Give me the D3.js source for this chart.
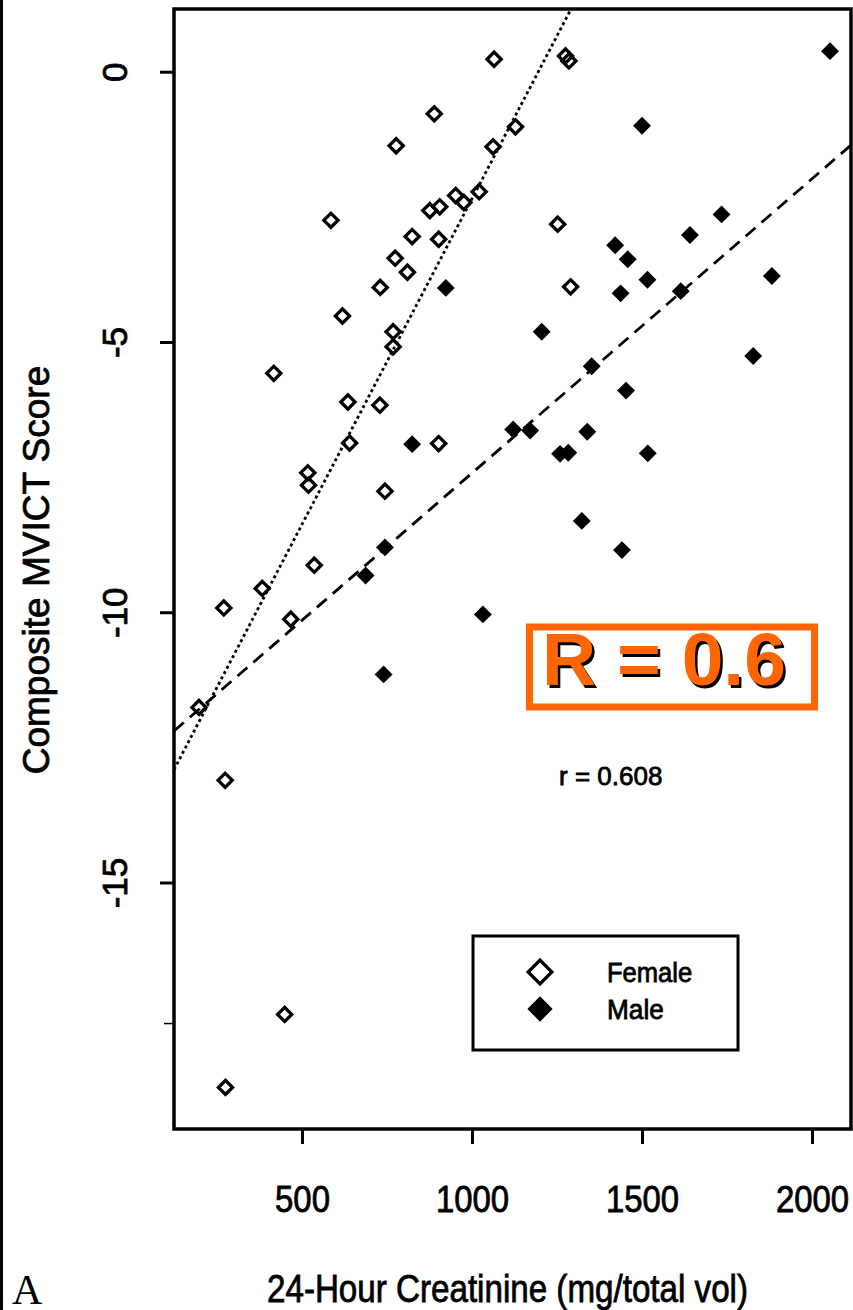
<!DOCTYPE html>
<meta charset="utf-8">
<style>
body { margin: 0; background: #fff; }
svg { display: block; font-family: "Liberation Sans", Arial, Helvetica, sans-serif; }
.frame { fill: none; stroke: #000; stroke-width: 3.5px; }
.axis .domain { display: none; }
.axis .tick line { stroke: #000; stroke-width: 3px; }
.axis.minor .tick line { stroke-width: 1.5px; }
.axis text { fill: #000; stroke: #000; stroke-width: 0.8px; }
.fit { fill: none; stroke: #000; stroke-width: 2.8px; }
.fit.female { stroke-dasharray: 3, 3; }
.fit.male { stroke-dasharray: 13, 8; }
.pt.female { fill: none; stroke: #000; stroke-width: 3.3px; }
.pt.male { fill: #000; stroke: none; }
.label { fill: #000; stroke: #000; stroke-width: 0.8px; }
</style>
<svg id="chart" width="853" height="1310"></svg>
<script src="https://cdn.jsdelivr.net/npm/d3@7/dist/d3.min.js"></script>
<script>
// values
var femaleCreat = [1065, 889, 777, 1062, 1128, 585, 1021, 952, 976, 876, 905, 824, 902, 774, 810, 730, 619, 768, 768,
                   417, 635, 729, 640, 517, 519, 744, 536, 383, 270, 467, 1275, 1285, 1252, 1290, 197, 274, 449, 275, 902];
var femaleScore = [0.23, -0.78, -1.37, -1.39, -1.02, -2.75, -2.22, -2.29, -2.42, -2.57, -2.50, -3.05, -3.10, -3.45, -3.71, -3.99, -4.52, -4.81, -5.09,
                   -5.58, -6.11, -6.17, -6.87, -7.42, -7.65, -7.76, -9.13, -9.56, -9.92, -10.13, 0.29, 0.20, -2.82, -3.98, -11.76, -13.11, -17.44, -18.79, -6.88];
var maleCreat = [923, 824, 1121, 1171, 744, 687, 1032, 740, 2053, 1500, 1421, 1458, 1641, 1734,
                 1516, 1437, 1614, 1882, 1205, 1827, 1352, 1453, 1339, 1259, 1283, 1517, 1323, 1441];
var maleScore = [-4.00, -6.89, -6.62, -6.64, -8.80, -9.32, -10.04, -11.15, 0.38, -1.00, -3.21, -3.47, -3.02, -2.64,
                 -3.85, -4.10, -4.06, -3.78, -4.81, -5.26, -5.45, -5.90, -6.66, -7.07, -7.05, -7.06, -8.31, -8.85];

// regression lines: [intercept, slope]
var femaleFit = [-14.40, 0.01205];
var maleFit = [-12.87, 0.005444];

var xTicks = [500, 1000, 1500, 2000];
var yTicks = [0, -5, -10, -15];
var yMinorTicks = [-17.6];
var legendLabels = ["Female", "Male"];
var xTitle = "24-Hour Creatinine (mg/total vol)";
var yTitle = "Composite MVICT Score";
var bigR = "R = 0.6";
var smallR = "r = 0.608";
var panel = "A";

var plotL = 174, plotR = 851, plotT = 9, plotB = 1129;

var x = d3.scaleLinear().domain([123.5, 2114.7]).range([plotL, plotR]);
var y = d3.scaleLinear().domain([1.16, -19.56]).range([plotT, plotB]);

var svg = d3.select("#chart");

// figure border on the far left
svg.append("line")
    .attr("x1", 1.5).attr("x2", 1.5).attr("y1", 0).attr("y2", 1310)
    .attr("stroke", "#000").attr("stroke-width", 3);

svg.append("clipPath").attr("id", "plotclip")
  .append("rect")
    .attr("x", plotL).attr("y", plotT)
    .attr("width", plotR - plotL).attr("height", plotB - plotT);

// x axis
var gx = svg.append("g")
    .attr("class", "axis")
    .attr("transform", "translate(0," + plotB + ")")
    .call(d3.axisBottom(x).tickValues(xTicks).tickSize(15).tickFormat(function(d) { return String(d); }));
gx.selectAll("text")
    .attr("y", 83).attr("dy", null)
    .style("font-size", "37px")
    .attr("textLength", function(d) { return String(d).length * 18.3; })
    .attr("lengthAdjust", "spacingAndGlyphs");

// y axis, labels turned like in R (las = 0), plain hyphen minus
var gy = svg.append("g")
    .attr("class", "axis")
    .attr("transform", "translate(" + plotL + ",0)")
    .call(d3.axisLeft(y).tickValues(yTicks).tickSize(14).tickFormat(function(d) { return String(d); }));
gy.selectAll("text")
    .attr("x", 0).attr("y", -47).attr("dy", null)
    .attr("text-anchor", "middle")
    .attr("transform", "rotate(-90)")
    .style("font-size", "35px");

svg.append("g")
    .attr("class", "axis minor")
    .attr("transform", "translate(" + plotL + ",0)")
    .call(d3.axisLeft(y).tickValues(yMinorTicks).tickSize(10).tickFormat(""));

// axis titles
svg.append("text")
    .attr("class", "label")
    .attr("transform", "translate(49,570) rotate(-90)")
    .attr("text-anchor", "middle")
    .style("font-size", "37px")
    .text(yTitle);

svg.append("text")
    .attr("class", "label")
    .attr("x", 267).attr("y", 1302)
    .style("font-size", "39px")
    .attr("textLength", 481)
    .attr("lengthAdjust", "spacingAndGlyphs")
    .text(xTitle);

svg.append("text")
    .attr("x", 12).attr("y", 1304)
    .style("font-family", "'Liberation Serif', 'Times New Roman', serif")
    .style("font-size", "42px")
    .text(panel);

// fitted lines
var fits = svg.append("g").attr("clip-path", "url(#plotclip)");
[[femaleFit, "female"], [maleFit, "male"]].forEach(function(f) {
  var xs = x.domain();
  fits.append("path")
      .attr("class", "fit " + f[1])
      .attr("d", d3.line()(xs.map(function(v) { return [x(v), y(f[0][0] + f[0][1] * v)]; })));
});

// points
var openDiamond = d3.symbol(d3.symbolSquare, 100);
var solidDiamond = d3.symbol(d3.symbolSquare, 160);

svg.append("g").selectAll("path")
    .data(d3.range(femaleCreat.length))
  .enter().append("path")
    .attr("class", "pt female")
    .attr("d", openDiamond)
    .attr("transform", function(i) { return "translate(" + x(femaleCreat[i]) + "," + y(femaleScore[i]) + ") rotate(45)"; });

svg.append("g").selectAll("path")
    .data(d3.range(maleCreat.length))
  .enter().append("path")
    .attr("class", "pt male")
    .attr("d", solidDiamond)
    .attr("transform", function(i) { return "translate(" + x(maleCreat[i]) + "," + y(maleScore[i]) + ") rotate(45)"; });

// plot frame
svg.append("rect")
    .attr("class", "frame")
    .attr("x", plotL).attr("y", plotT)
    .attr("width", plotR - plotL).attr("height", plotB - plotT);

// correlation text
svg.append("text")
    .attr("class", "label")
    .attr("x", 559).attr("y", 785)
    .style("font-size", "26px")
    .text(smallR);

// orange call-out
svg.append("rect")
    .attr("x", 529.5).attr("y", 627)
    .attr("width", 285).attr("height", 80)
    .attr("fill", "none").attr("stroke", "#ff6600").attr("stroke-width", 7);
svg.append("text")
    .attr("x", 544.5).attr("y", 687.5)
    .style("font-size", "75px").style("font-weight", "bold")
    .attr("fill", "#000")
    .text(bigR);
svg.append("text")
    .attr("x", 542).attr("y", 685)
    .style("font-size", "75px").style("font-weight", "bold")
    .attr("fill", "#ff6600")
    .text(bigR);

// legend
var leg = svg.append("g");
leg.append("rect")
    .attr("x", 473).attr("y", 936).attr("width", 265).attr("height", 114)
    .attr("fill", "none").attr("stroke", "#000").attr("stroke-width", 3);
var legItems = leg.selectAll("g.item")
    .data(legendLabels)
  .enter().append("g")
    .attr("class", "item")
    .attr("transform", function(d, i) { return "translate(540," + (972 + i * 37) + ")"; });
legItems.append("path")
    .attr("class", function(d, i) { return i === 0 ? "pt female" : "pt male"; })
    .attr("d", function(d, i) { return d3.symbol(d3.symbolSquare, i === 0 ? 280 : 320)(); })
    .attr("transform", "rotate(45)");
legItems.append("text")
    .attr("class", "label")
    .attr("x", 67).attr("y", 10)
    .style("font-size", "28px")
    .attr("textLength", function(d) { return d.length * 14.2; })
    .attr("lengthAdjust", "spacingAndGlyphs")
    .text(function(d) { return d; });
</script>
